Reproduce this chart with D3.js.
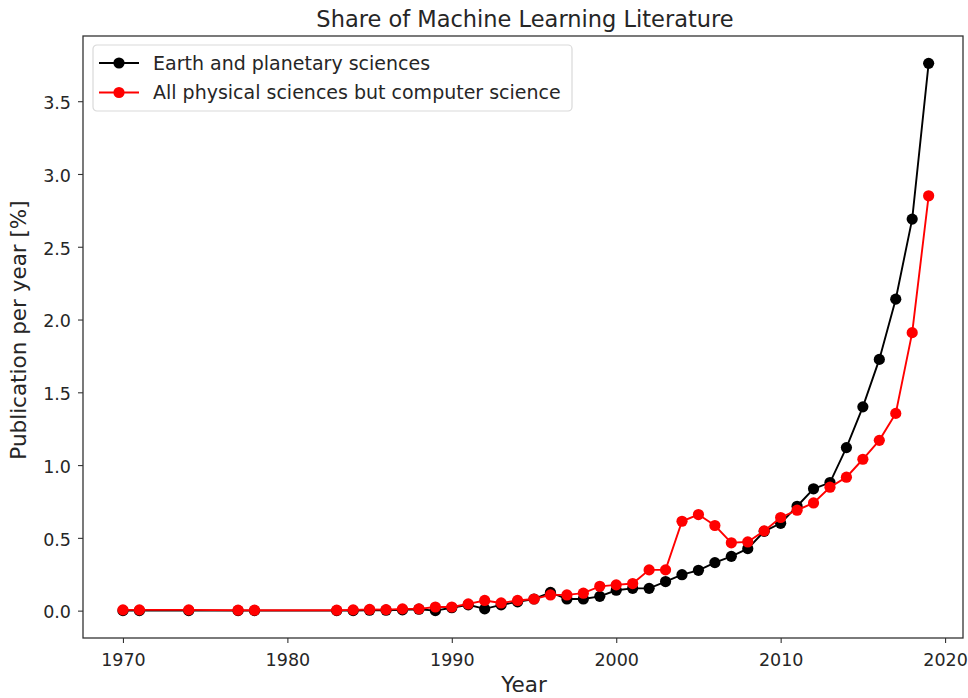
<!DOCTYPE html>
<html>
<head>
<meta charset="utf-8">
<script src="https://cdn.jsdelivr.net/npm/d3@7"></script>
<style>
  body { margin: 0; background: #fff; }
  svg { font-family: "DejaVu Sans", sans-serif; }
</style>
</head>
<body>
<div id="chart"></div>
<script>
const years = [1970, 1971, 1974, 1977, 1978, 1983, 1984, 1985, 1986, 1987, 1988, 1989,
  1990, 1991, 1992, 1993, 1994, 1995, 1996, 1997, 1998, 1999, 2000, 2001, 2002, 2003,
  2004, 2005, 2006, 2007, 2008, 2009, 2010, 2011, 2012, 2013, 2014, 2015, 2016, 2017, 2018, 2019];

const earthValues = [0.0, 0.0, 0.0, 0.0, 0.0, 0.0, 0.0, 0.003, 0.003, 0.005, 0.01, 0.0,
  0.02, 0.04, 0.012, 0.04, 0.06, 0.08, 0.125, 0.08, 0.08, 0.098, 0.14, 0.153, 0.153, 0.20,
  0.247, 0.277, 0.33, 0.373, 0.426, 0.545, 0.60, 0.717, 0.837, 0.88, 1.12, 1.40, 1.726, 2.14, 2.69, 3.76];

const physValues = [0.005, 0.005, 0.005, 0.003, 0.003, 0.003, 0.005, 0.008, 0.007, 0.012, 0.012, 0.025,
  0.025, 0.046, 0.07, 0.053, 0.07, 0.08, 0.108, 0.108, 0.12, 0.167, 0.177, 0.186, 0.28, 0.28,
  0.614, 0.66, 0.585, 0.466, 0.472, 0.548, 0.64, 0.69, 0.74, 0.848, 0.917, 1.04, 1.17, 1.355, 1.91, 2.85];

const seriesNames = ["Earth and planetary sciences", "All physical sciences but computer science"];
const seriesColors = ["#000000", "#ff0000"];
const xTicks = [1970, 1980, 1990, 2000, 2010, 2020];
const yTicks = [0.0, 0.5, 1.0, 1.5, 2.0, 2.5, 3.0, 3.5];

const W = 968, H = 698;
const margin = {top: 36, right: 5, bottom: 60, left: 83};
const width = W - margin.left - margin.right;   // 880
const height = H - margin.top - margin.bottom;  // 602

const svg = d3.select("#chart").append("svg")
  .attr("width", W)
  .attr("height", H);

const g = svg.append("g")
  .attr("transform", `translate(${margin.left},${margin.top})`);

const yMax = d3.max(earthValues);
const yPad = yMax * 0.05;

const x = d3.scaleLinear()
  .domain([1967.57, 2021.09])
  .range([0, width]);

const y = d3.scaleLinear()
  .domain([0 - yPad, yMax + yPad])
  .range([height, 0]);

const xAxis = g.append("g")
  .attr("transform", `translate(0,${height})`)
  .call(d3.axisBottom(x).tickValues(xTicks).tickFormat(d3.format("d")).tickSize(5).tickPadding(11));

const yAxis = g.append("g")
  .call(d3.axisLeft(y).tickValues(yTicks).tickFormat(d3.format(".1f")).tickSize(5).tickPadding(7));

[xAxis, yAxis].forEach(a => {
  a.select(".domain").remove();
  a.selectAll("text").attr("font-size", 17.5).attr("fill", "#262626").attr("font-family", "DejaVu Sans");
  a.selectAll("line").attr("stroke", "#333").attr("stroke-width", 1.1);
});
yAxis.selectAll("text").attr("dy", "0.42em");

// frame
g.append("rect")
  .attr("x", 0).attr("y", 0)
  .attr("width", width).attr("height", height)
  .attr("fill", "none")
  .attr("stroke", "#333")
  .attr("stroke-width", 1.3);

const line = d3.line()
  .x(d => x(d[0]))
  .y(d => y(d[1]));

const allSeries = [earthValues, physValues];

allSeries.forEach((vals, i) => {
  const pts = years.map((yr, j) => [yr, vals[j]]);
  const sg = g.append("g");
  sg.append("path")
    .datum(pts)
    .attr("fill", "none")
    .attr("stroke", seriesColors[i])
    .attr("stroke-width", 1.9)
    .attr("d", line);
  sg.selectAll("circle")
    .data(pts)
    .join("circle")
      .attr("cx", d => x(d[0]))
      .attr("cy", d => y(d[1]))
      .attr("r", 5.6)
      .attr("fill", seriesColors[i]);
});

// title and labels
svg.append("text")
  .attr("x", 525)
  .attr("y", 27)
  .attr("text-anchor", "middle")
  .attr("font-size", 22.5)
  .attr("fill", "#262626")
  .text("Share of Machine Learning Literature");

svg.append("text")
  .attr("x", 524)
  .attr("y", 692)
  .attr("text-anchor", "middle")
  .attr("font-size", 21.5)
  .attr("fill", "#262626")
  .text("Year");

svg.append("text")
  .attr("transform", "translate(26,330) rotate(-90)")
  .attr("text-anchor", "middle")
  .attr("font-size", 21.5)
  .attr("fill", "#262626")
  .text("Publication per year [%]");

// legend
const legend = g.append("g").attr("transform", "translate(10,9)");
legend.append("rect")
  .attr("width", 479).attr("height", 66)
  .attr("rx", 4)
  .attr("fill", "#fff")
  .attr("fill-opacity", 0.8)
  .attr("stroke", "#d9d9d9")
  .attr("stroke-width", 1.2);

seriesNames.forEach((name, i) => {
  const row = legend.append("g").attr("transform", `translate(0,${18 + i * 29.5})`);
  row.append("line")
    .attr("x1", 6).attr("x2", 46)
    .attr("stroke", seriesColors[i])
    .attr("stroke-width", 1.9);
  row.append("circle")
    .attr("cx", 26).attr("r", 5.6)
    .attr("fill", seriesColors[i]);
  row.append("text")
    .attr("x", 60).attr("dy", "0.35em")
    .attr("font-size", 19)
    .attr("fill", "#262626")
    .text(name);
});
</script>
</body>
</html>
